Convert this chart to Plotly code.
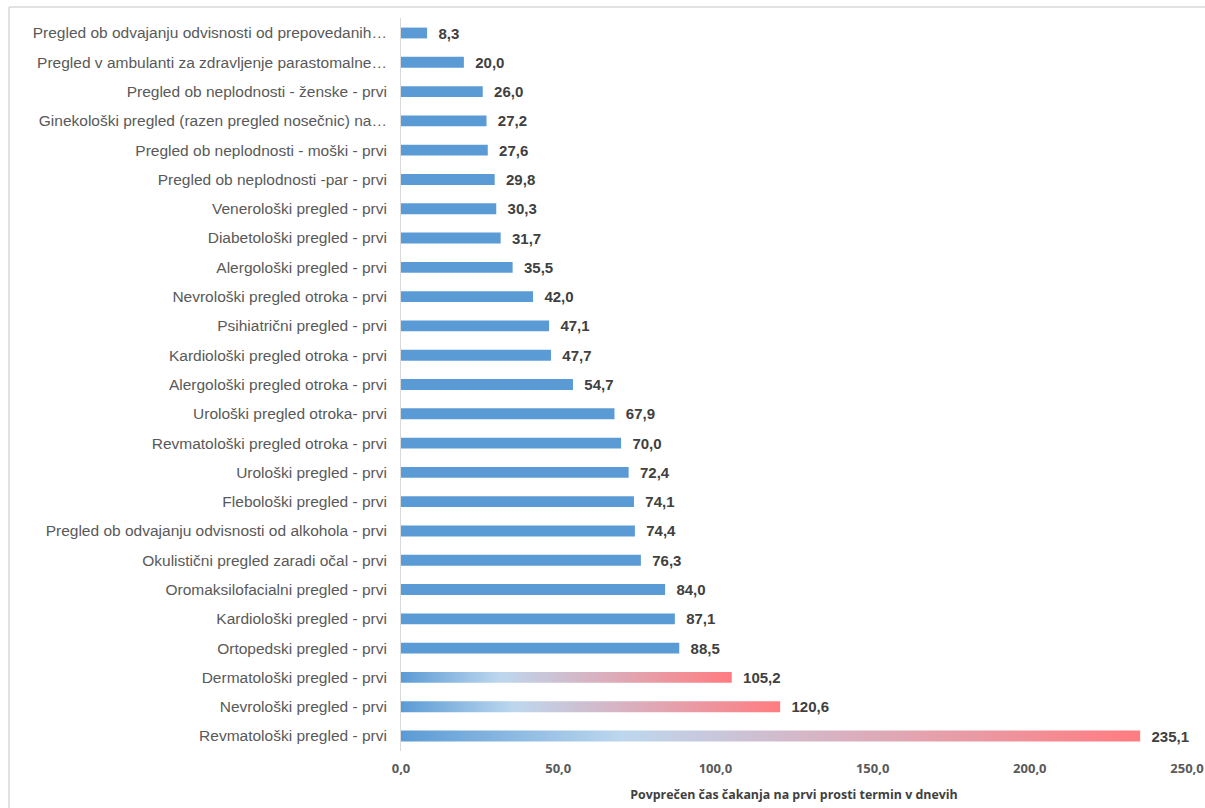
import plotly.graph_objects as go

categories = [
    "Pregled ob odvajanju odvisnosti od prepovedanih…",
    "Pregled v ambulanti za zdravljenje parastomalne…",
    "Pregled ob neplodnosti - ženske - prvi",
    "Ginekološki pregled (razen pregled nosečnic) na…",
    "Pregled ob neplodnosti - moški - prvi",
    "Pregled ob neplodnosti -par - prvi",
    "Venerološki pregled - prvi",
    "Diabetološki pregled - prvi",
    "Alergološki pregled - prvi",
    "Nevrološki pregled otroka - prvi",
    "Psihiatrični pregled - prvi",
    "Kardiološki pregled otroka - prvi",
    "Alergološki pregled otroka - prvi",
    "Urološki pregled otroka- prvi",
    "Revmatološki pregled otroka - prvi",
    "Urološki pregled - prvi",
    "Flebološki pregled - prvi",
    "Pregled ob odvajanju odvisnosti od alkohola - prvi",
    "Okulistični pregled zaradi očal - prvi",
    "Oromaksilofacialni pregled - prvi",
    "Kardiološki pregled - prvi",
    "Ortopedski pregled - prvi",
    "Dermatološki pregled - prvi",
    "Nevrološki pregled - prvi",
    "Revmatološki pregled - prvi",
]
values = [8.3, 20.0, 26.0, 27.2, 27.6, 29.8, 30.3, 31.7, 35.5, 42.0, 47.1, 47.7,
          54.7, 67.9, 70.0, 72.4, 74.1, 74.4, 76.3, 84.0, 87.1, 88.5, 105.2, 120.6, 235.1]
highlight = [False] * 22 + [True] * 3
x_ticks = [0, 50, 100, 150, 200, 250]
axis_title = "Povprečen čas čakanja na prvi prosti termin v dnevih"

BLUE = "#5B9BD5"
LIGHT = "#BDD7EE"
RED = "#FF7C80"
BAR_W = 0.37

pos = list(range(len(categories)))
colors = ["rgba(0,0,0,0)" if h else BLUE for h in highlight]

fig = go.Figure()
fig.add_trace(go.Bar(
    x=values, y=pos, orientation="h", width=BAR_W,
    marker=dict(color=colors, line=dict(width=0)),
    text=values, texttemplate="\u00a0\u00a0%{x:.1f}", textposition="outside",
    constraintext="none",
    textfont=dict(family="Liberation Sans, Arial", size=15, color="#404040", weight="bold"),
    cliponaxis=False, hoverinfo="skip", showlegend=False,
))

for i, (v, h) in enumerate(zip(values, highlight)):
    if not h:
        continue
    hw = BAR_W / 2
    fig.add_trace(go.Scatter(
        x=[0, v, v, 0, 0], y=[i - hw, i - hw, i + hw, i + hw, i - hw],
        mode="lines", line=dict(width=0), fill="toself",
        fillgradient=dict(type="horizontal",
                          colorscale=[[0, BLUE], [0.3, LIGHT], [1, RED]]),
        hoverinfo="skip", showlegend=False,
    ))

L, R, T, B = 401, 18, 18, 57
W, H = 1205, 808
pw, ph = W - L - R, H - T - B

def px_x(x):
    return (x - L) / pw

def px_y(y):
    return 1 - (y - T) / ph

frame = "#D9D9D9"
fig.add_shape(type="line", xref="paper", yref="paper",
              x0=px_x(9), x1=px_x(1205), y0=px_y(7), y1=px_y(7),
              line=dict(color=frame, width=1.5))
fig.add_shape(type="line", xref="paper", yref="paper",
              x0=px_x(9), x1=px_x(9), y0=px_y(7), y1=px_y(808),
              line=dict(color=frame, width=1.5))

fig.update_layout(
    width=W, height=H,
    margin=dict(l=L, r=R, t=T, b=B, autoexpand=False),
    paper_bgcolor="white", plot_bgcolor="white",
    separators=", ",
    xaxis=dict(
        range=[0, 250], tickvals=x_ticks, tickformat=".1f", automargin=False,
        showgrid=False, zeroline=False, showline=False,
        tickfont=dict(family="Open Sans", size=13, color="#595959", weight="bold"),
        ticklabelstandoff=8,
        title=dict(text=axis_title, standoff=14,
                   font=dict(family="Open Sans", size=12.4, color="#404040", weight="bold")),
    ),
    yaxis=dict(
        range=[24.512, -0.512], tickvals=pos, ticktext=categories, automargin=False,
        showgrid=False, zeroline=False, showline=True, linecolor="#D9D9D9", linewidth=1,
        tickfont=dict(family="Liberation Sans, Arial", size=15.5, color="#595959"),
        ticklabelstandoff=10,
    ),
)

fig.write_html("out.html", config={"displayModeBar": False})
with open("out.html", "r", encoding="utf-8") as f:
    html = f.read()
html = html.replace("<head>", "<head><style>html,body{margin:0;padding:0;overflow:hidden;}</style>", 1)
with open("out.html", "w", encoding="utf-8") as f:
    f.write(html)
